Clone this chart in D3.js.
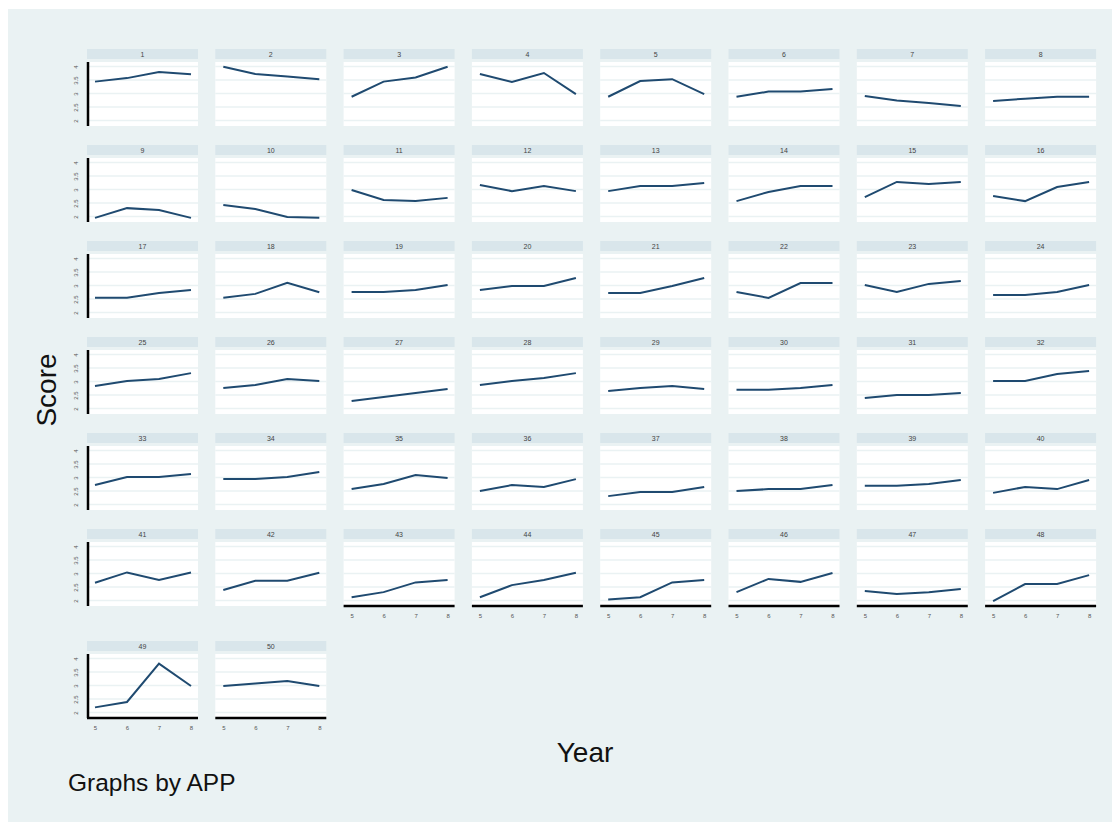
<!DOCTYPE html>
<html>
<head>
<meta charset="utf-8">
<script src="https://cdn.jsdelivr.net/npm/d3@7"></script>
<style>
  body { margin: 0; background: #fff; }
  text { font-family: "Liberation Sans", Arial, sans-serif; }
</style>
</head>
<body>
<script>
// years on the x axis, score ticks on the y axis
const years = [5, 6, 7, 8];
const yTicks = [2, 2.5, 3, 3.5, 4];

// one panel per APP, 1..50
const apps = d3.range(1, 51);

// score at years 5,6,7,8 for each APP
const scores = [
  [3.44, 3.57, 3.80, 3.71], [3.99, 3.72, 3.63, 3.53], [2.88, 3.44, 3.59, 3.99], [3.72, 3.43, 3.76, 2.98],
  [2.88, 3.46, 3.53, 2.98], [2.88, 3.07, 3.07, 3.17], [2.91, 2.74, 2.65, 2.54], [2.72, 2.81, 2.88, 2.88],
  [1.95, 2.31, 2.24, 1.95], [2.43, 2.28, 1.98, 1.95], [2.98, 2.61, 2.57, 2.69], [3.17, 2.94, 3.13, 2.94],
  [2.94, 3.13, 3.13, 3.24], [2.57, 2.91, 3.13, 3.13], [2.72, 3.28, 3.20, 3.28], [2.76, 2.57, 3.09, 3.28],
  [2.55, 2.55, 2.72, 2.83], [2.55, 2.69, 3.10, 2.75], [2.76, 2.76, 2.83, 3.02], [2.83, 2.98, 2.98, 3.28],
  [2.72, 2.72, 2.98, 3.28], [2.76, 2.54, 3.09, 3.09], [3.02, 2.76, 3.06, 3.17], [2.65, 2.65, 2.76, 3.02],
  [2.83, 3.02, 3.09, 3.31], [2.76, 2.87, 3.09, 3.02], [2.28, 2.43, 2.57, 2.72], [2.87, 3.02, 3.13, 3.31],
  [2.65, 2.76, 2.83, 2.72], [2.69, 2.69, 2.76, 2.87], [2.39, 2.50, 2.50, 2.57], [3.02, 3.02, 3.28, 3.39],
  [2.72, 3.02, 3.02, 3.13], [2.94, 2.94, 3.02, 3.20], [2.57, 2.76, 3.09, 2.98], [2.50, 2.72, 2.65, 2.94],
  [2.31, 2.46, 2.46, 2.65], [2.50, 2.57, 2.57, 2.72], [2.69, 2.69, 2.76, 2.91], [2.43, 2.65, 2.57, 2.91],
  [2.66, 3.04, 2.76, 3.04], [2.39, 2.73, 2.73, 3.03], [2.12, 2.31, 2.67, 2.76], [2.12, 2.57, 2.76, 3.03],
  [2.04, 2.12, 2.67, 2.76], [2.31, 2.80, 2.69, 3.02], [2.35, 2.24, 2.31, 2.43], [1.98, 2.61, 2.61, 2.94],
  [2.19, 2.39, 3.81, 2.98], [2.98, 3.07, 3.17, 2.98]
];

const width = 1120, height = 825;
const nCols = 8;
const panelW = 111, colStep = 128.3, firstLeft = 87;
const stripH = 10;

// stata s2color-ish palette
const bgCol = "#eaf2f3", stripCol = "#d9e6eb", lineCol = "#1f4a70";

function rowTop(r) {
  return 49 + r * 96 + (r === 6 ? 16 : 0);
}

const svg = d3.select("body").append("svg")
  .attr("width", width)
  .attr("height", height);

svg.append("rect")
  .attr("x", 8).attr("y", 9)
  .attr("width", 1104).attr("height", 813)
  .attr("fill", bgCol);

const line = d3.line();

apps.forEach((app, i) => {
  const r = Math.floor(i / nCols), c = i % nCols;
  const left = firstLeft + c * colStep;
  const top = rowTop(r);
  const plotTop = top + 13, plotBottom = top + 77;

  const x = d3.scaleLinear().domain([5, 8]).range([left + 8, left + 104]);
  const y = d3.scaleLinear().domain([2, 4]).range([top + 71.5, top + 17.5]);

  const g = svg.append("g");

  // strip with the APP number
  g.append("rect")
    .attr("x", left).attr("y", top)
    .attr("width", panelW).attr("height", stripH)
    .attr("fill", stripCol);
  g.append("text")
    .attr("x", left + panelW / 2).attr("y", top + 7.5)
    .attr("text-anchor", "middle")
    .attr("font-size", 7)
    .attr("fill", "#444")
    .text(app);

  // plot region
  g.append("rect")
    .attr("x", left).attr("y", plotTop)
    .attr("width", panelW).attr("height", plotBottom - plotTop)
    .attr("fill", "#fff");

  g.selectAll(".grid")
    .data(yTicks)
    .join("line")
    .attr("x1", left).attr("x2", left + panelW)
    .attr("y1", d => y(d)).attr("y2", d => y(d))
    .attr("stroke", bgCol)
    .attr("stroke-width", 1.5);

  // the score line
  g.append("path")
    .datum(years.map((yr, k) => [x(yr), y(scores[i][k])]))
    .attr("fill", "none")
    .attr("stroke", lineCol)
    .attr("stroke-width", 2)
    .attr("d", line);

  // y axis only on the first column
  if (c === 0) {
    const yAxis = d3.axisLeft(y).tickValues(yTicks).tickFormat(d3.format("~g")).tickSize(0).tickPadding(0);
    const ya = g.append("g")
      .attr("transform", `translate(${left + 1},0)`)
      .call(yAxis);
    ya.select(".domain").remove();
    ya.selectAll("text")
      .attr("x", null).attr("dy", null)
      .attr("text-anchor", "middle")
      .attr("font-size", 6)
      .attr("font-family", "Liberation Sans, Arial, sans-serif")
      .attr("fill", "#555")
      .attr("transform", "translate(-12,0) rotate(-90)")
      .attr("y", 2);
    g.append("line")
      .attr("x1", left + 1).attr("x2", left + 1)
      .attr("y1", plotTop).attr("y2", plotBottom)
      .attr("stroke", "#000")
      .attr("stroke-width", 2.5);
  }

  // x axis on the lowest panel of each column
  if (i + nCols >= apps.length) {
    const xAxis = d3.axisBottom(x).tickValues(years).tickFormat(d3.format("d")).tickSize(0).tickPadding(8);
    const xa = g.append("g")
      .attr("transform", `translate(0,${plotBottom})`)
      .call(xAxis);
    xa.select(".domain").remove();
    xa.selectAll("text")
      .attr("font-size", 6)
      .attr("font-family", "Liberation Sans, Arial, sans-serif")
      .attr("fill", "#555");
    g.append("line")
      .attr("x1", left).attr("x2", left + panelW)
      .attr("y1", plotBottom).attr("y2", plotBottom)
      .attr("stroke", "#000")
      .attr("stroke-width", 2.5);
  }
});

// titles
svg.append("text")
  .attr("transform", "translate(56,390) rotate(-90)")
  .attr("text-anchor", "middle")
  .attr("font-size", 28)
  .attr("fill", "#111")
  .text("Score");

svg.append("text")
  .attr("x", 585).attr("y", 762)
  .attr("text-anchor", "middle")
  .attr("font-size", 28)
  .attr("fill", "#111")
  .text("Year");

svg.append("text")
  .attr("x", 68).attr("y", 791)
  .attr("font-size", 24.5)
  .attr("fill", "#111")
  .text("Graphs by APP");
</script>
</body>
</html>
